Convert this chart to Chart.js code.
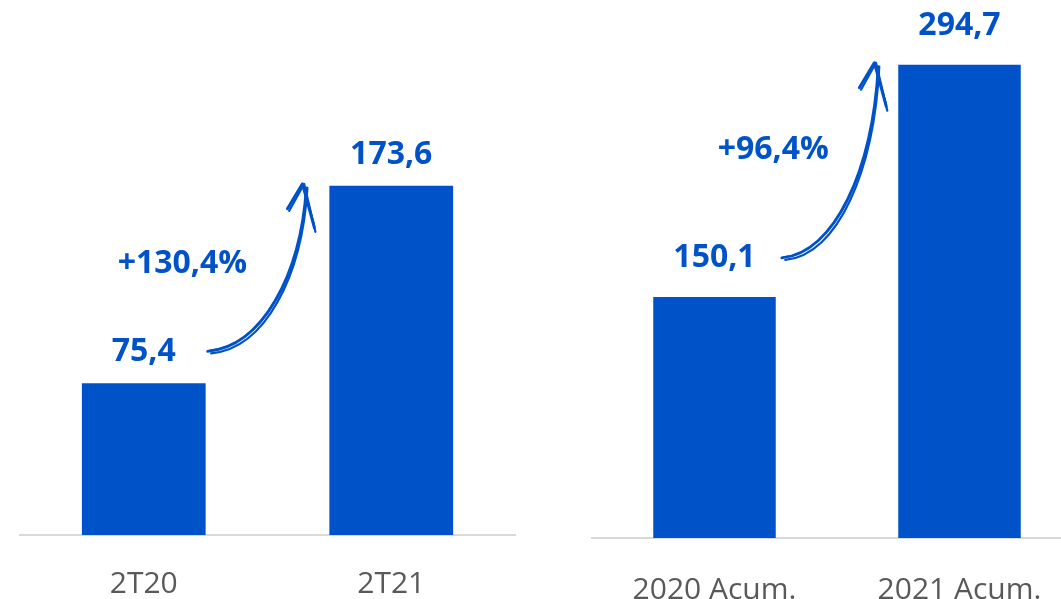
<!DOCTYPE html>
<html>
<head>
<meta charset="utf-8">
<script src="https://cdn.jsdelivr.net/npm/chart.js@4.4.0/dist/chart.umd.min.js"></script>
<style>
	html, body { margin: 0; padding: 0; background: #fff; overflow: hidden; }
	#wrap { position: relative; width: 1061px; height: 599px; overflow: hidden; }
	#leftChart { position: absolute; left: 0; top: 0; }
	#rightChart { position: absolute; left: 540px; top: 0; }
</style>
</head>
<body>
<div id="wrap">
	<canvas id="leftChart" width="530" height="599"></canvas>
	<canvas id="rightChart" width="560" height="599"></canvas>
</div>
<script>
// 데이터
var leftLabels = ['2T20', '2T21'];
var leftValues = [75.4, 173.6];
var leftGrowth = '+130,4%';

var rightLabels = ['2020 Acum.', '2021 Acum.'];
var rightValues = [150.1, 294.7];
var rightGrowth = '+96,4%';

var blue = '#0052C8';
var grey = '#595959';

function fmt(v) {
	return v.toFixed(1).replace('.', ',');
}

// 값 라벨 + 손그림 화살표 + 증가율
var annotatePlugin = {
	id: 'annotate',
	afterDatasetsDraw: function(chart, args, opts) {
		var ctx = chart.ctx;
		var bars = chart.getDatasetMeta(0).data;
		var values = chart.data.datasets[0].data;
		ctx.save();
		ctx.fillStyle = blue;
		ctx.font = 'bold 32px "Open Sans"';
		ctx.textAlign = 'center';
		ctx.textBaseline = 'middle';
		for (var i = 0; i < bars.length; i++) {
			ctx.fillText(fmt(values[i]), bars[i].x, bars[i].y - opts.labelGap);
		}

		var b1 = bars[0], b2 = bars[1];
		var sx = b1.x + b1.width / 2 + opts.startDx, sy = b1.y - opts.startDy;
		var tx = b2.x - b2.width / 2 - opts.tipDx, ty = b2.y - 2;

		ctx.strokeStyle = blue;
		ctx.lineCap = 'round';
		ctx.lineJoin = 'round';
		// 여러 번 그려서 손그림 느낌
		var offs = [[0, 0, 2.8], [3.5, 2, 2.2], [1.5, -1, 1.2]];
		offs.forEach(function(o) {
			ctx.lineWidth = o[2];
			ctx.beginPath();
			ctx.moveTo(sx + o[0], sy + o[1]);
			ctx.bezierCurveTo(sx + (tx - sx) * 0.55 + o[0], sy - 5 + o[1],
				tx - 6 + o[0] * 0.5, sy - (sy - ty) * 0.45,
				tx + o[0] * 0.3, ty + 4);
			ctx.stroke();
			// 화살촉
			ctx.beginPath();
			ctx.moveTo(tx - 19 + o[0] * 0.5, ty + 25 + o[1]);
			ctx.lineTo(tx - 4 + o[0] * 0.5, ty);
			ctx.lineTo(tx + 8 + o[0] * 0.3, ty + 44 + o[1] * 2);
			ctx.stroke();
		});

		ctx.font = 'bold 32px "Open Sans"';
		ctx.fillText(opts.growth, tx - opts.growthDx, ty + opts.growthDy);
		ctx.restore();
	}
};

function makeChart(id, labels, values, max, growth, pad, axisH, tickPad, ann) {
	var area = document.getElementById(id).getContext('2d');
	return new Chart(area, {
		type: 'bar',
		data: {
			labels: labels,
			datasets: [{
				data: values,
				backgroundColor: blue,
				borderWidth: 0,
				categoryPercentage: 1,
				barPercentage: 0.5
			}]
		},
		options: {
			responsive: false,
			animation: false,
			devicePixelRatio: 1,
			layout: { padding: pad },
			plugins: {
				legend: { display: false },
				tooltip: { enabled: false },
				annotate: Object.assign({ growth: growth }, ann)
			},
			scales: {
				y: { display: false, min: 0, max: max },
				x: {
					grid: { display: false, drawTicks: false },
					border: { display: true, color: '#D9D9D9', width: 2 },
					ticks: {
						color: grey,
						padding: tickPad,
						maxRotation: 0,
						font: { family: '"Open Sans"', size: 30 }
					},
					afterFit: function(scale) {
						scale.height = axisH;
					}
				}
			}
		},
		plugins: [annotatePlugin]
	});
}

makeChart('leftChart', leftLabels, leftValues, 266, leftGrowth,
	{ left: 20, right: 15, top: 0, bottom: 0 }, 64, 31,
	{ labelGap: 31, startDx: 2, startDy: 32, tipDx: 23, growthDx: 124, growthDy: 80 });

makeChart('rightChart', rightLabels, rightValues, 335, rightGrowth,
	{ left: 52, right: 18, top: 0, bottom: 0 }, 61, 34,
	{ labelGap: 39, startDx: 6, startDy: 39, tipDx: 20, growthDx: 105, growthDy: 87 });
</script>
</body>
</html>
